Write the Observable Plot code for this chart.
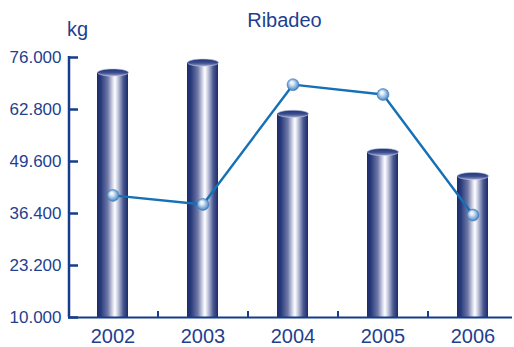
<!DOCTYPE html>
<html>
<head>
<meta charset="utf-8">
<script src="https://cdn.jsdelivr.net/npm/d3@7"></script>
<script src="https://cdn.jsdelivr.net/npm/@observablehq/plot@0.6"></script>
<style>
  body { margin: 0; background: #fff; }
  #wrap { position: relative; width: 514px; height: 347px; font-family: "Liberation Sans", Arial, sans-serif; color: #1f3f8f; }
  #title { position: absolute; left: 0; width: 569px; text-align: center; top: 10px; font-size: 20px; line-height: 20px; }
  #unit { position: absolute; left: 67px; top: 19px; font-size: 20px; line-height: 20px; }
  svg { position: absolute; left: 0; top: 0; }
</style>
</head>
<body>
<div id="wrap">
  <div id="title">Ribadeo</div>
  <div id="unit">kg</div>
</div>
<script>
const years = ["2002", "2003", "2004", "2005", "2006"];
const barValues = [72200, 74700, 61700, 52000, 45900];
const lineValues = [41000, 38700, 69100, 66600, 36000];
const yTicks = [10000, 23200, 36400, 49600, 62800, 76000];

const bars = years.map((year, i) => ({year, value: barValues[i]}));
const points = years.map((year, i) => ({year, value: lineValues[i]}));

const esFormat = d3.formatLocale({decimal: ",", thousands: ".", grouping: [3], currency: ["", " €"]}).format(",.0f");

const W = 514, H = 347, mL = 68, mR = 0, mT = 57, mB = 30;
const plotW = W - mL - mR, plotH = H - mT - mB;
const axisColor = "#173c8c";

const ellipse = {
  draw(ctx, size) {
    const rx = Math.sqrt(size / Math.PI), ry = rx * 0.23;
    const kx = rx * 0.5523, ky = ry * 0.5523;
    ctx.moveTo(-rx, 0);
    ctx.bezierCurveTo(-rx, -ky, -kx, -ry, 0, -ry);
    ctx.bezierCurveTo(kx, -ry, rx, -ky, rx, 0);
    ctx.bezierCurveTo(rx, ky, kx, ry, 0, ry);
    ctx.bezierCurveTo(-kx, ry, -rx, ky, -rx, 0);
    ctx.closePath();
  }
};

const chart = Plot.plot({
  width: W, height: H,
  marginLeft: mL, marginRight: mR, marginTop: mT, marginBottom: mB,
  style: {color: axisColor, fontFamily: "'Liberation Sans', Arial, sans-serif", background: "transparent", overflow: "visible"},
  x: {domain: years, range: [67, 517], paddingInner: 0.656, paddingOuter: 0.328, axis: null},
  y: {domain: [10000, 76000], axis: null},
  marks: [
    Plot.barY(bars, {x: "year", y: "value", y1: 10000, fill: "url(#cyl)"}),
    Plot.dot(bars, {x: "year", y: "value", r: 15.5, symbol: ellipse, fill: "url(#cyltop)", stroke: "#c9cde3", strokeWidth: 0.6}),
    Plot.line(points, {x: "year", y: "value", stroke: "#1570b6", strokeWidth: 2.4}),
    Plot.dot(points, {x: "year", y: "value", r: 6, fill: "url(#sphere)", stroke: "#3b78b8", strokeWidth: 0.5}),
    Plot.axisY({ticks: yTicks, tickFormat: esFormat, tickSize: 0, tickPadding: 7, fontSize: 17, fill: "#1f3f8f", label: null}),
    Plot.tickY(yTicks, {y: d => d, insetRight: plotW - 10, stroke: axisColor, strokeWidth: 2.5}),
    Plot.ruleX(years.slice(0, 1), {x: d => d, dx: -44, stroke: axisColor, strokeWidth: 2.5, insetTop: -1}),
    Plot.ruleY([10000], {stroke: axisColor, strokeWidth: 2.2, insetRight: 2}),
    Plot.tickX(years.slice(1), {x: d => d, dx: -45, insetTop: plotH - 6, stroke: axisColor, strokeWidth: 2}),
    Plot.text(years, {x: d => d, y: 10000, text: d => d, dy: 19, fontSize: 20, fill: "#1f3f8f"})
  ]
});

const ns = "http://www.w3.org/2000/svg";
const defs = document.createElementNS(ns, "defs");
defs.innerHTML = `
  <linearGradient id="cyl" x1="0" x2="1" y1="0" y2="0">
    <stop offset="0" stop-color="#1a2c6b"/>
    <stop offset="0.12" stop-color="#27397a"/>
    <stop offset="0.35" stop-color="#7079a8"/>
    <stop offset="0.52" stop-color="#dfe2ef"/>
    <stop offset="0.58" stop-color="#ffffff"/>
    <stop offset="0.68" stop-color="#c3c7de"/>
    <stop offset="0.85" stop-color="#4a5890"/>
    <stop offset="1" stop-color="#1a2c6b"/>
  </linearGradient>
  <linearGradient id="cyltop" x1="0" x2="0" y1="0" y2="1">
    <stop offset="0" stop-color="#1c3277"/>
    <stop offset="0.55" stop-color="#3d4f91"/>
    <stop offset="1" stop-color="#9aa1c8"/>
  </linearGradient>
  <radialGradient id="sphere" cx="0.5" cy="0.5" r="0.55" fx="0.38" fy="0.3">
    <stop offset="0" stop-color="#ffffff"/>
    <stop offset="0.3" stop-color="#dbe8f5"/>
    <stop offset="0.7" stop-color="#79a8d8"/>
    <stop offset="1" stop-color="#2f6cad"/>
  </radialGradient>`;
chart.insertBefore(defs, chart.firstChild);
document.getElementById("wrap").prepend(chart);
</script>
</body>
</html>
